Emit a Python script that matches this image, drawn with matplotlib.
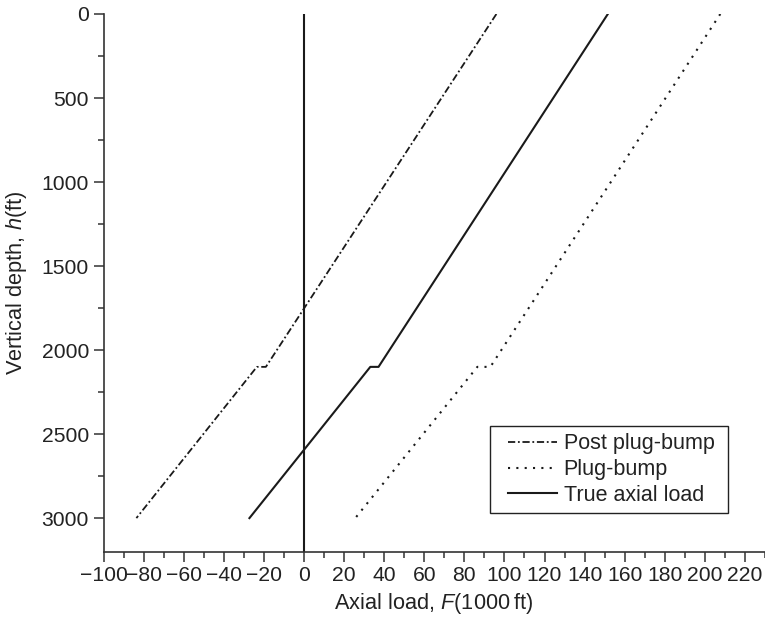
import matplotlib
matplotlib.use("Agg")
import matplotlib.pyplot as plt
from matplotlib.ticker import MultipleLocator
from matplotlib.legend_handler import HandlerLine2D

plt.rcParams['font.family'] = ['Liberation Sans', 'DejaVu Sans']
plt.rcParams['mathtext.fontset'] = 'custom'
plt.rcParams['mathtext.it'] = 'Liberation Sans:italic'
plt.rcParams['mathtext.rm'] = 'Liberation Sans'

# Data (depth in ft, axial load in 1000 lbf)
depth = [0, 2100, 2100, 3000]
post_plug_bump = [96, -19, -23.5, -83.6]
plug_bump = [207.7, 93, 86.5, 25.6]
true_axial_load = [151.6, 37.2, 33.1, -27.2]

xticks = list(range(-100, 221, 20))
yticks = [0, 500, 1000, 1500, 2000, 2500, 3000]

fs = 15.2
fig = plt.figure(figsize=(7.65, 6.22), dpi=100)
ax = fig.add_axes([0.1353, 0.113, 0.8647, 0.8645])

c = '#1a1a1a'
ax.plot(post_plug_bump, depth, color=c, lw=1.3, ls=(0, (4, 1.5, 1, 1.5)),
        label='Post plug-bump')
ax.plot(plug_bump, depth, color=c, lw=1.5, ls=(0, (1, 3)), label='Plug-bump')
ax.plot(true_axial_load, depth, color=c, lw=1.5, ls='-', label='True axial load')
ax.axvline(0, color=c, lw=1.5)

ax.set_xlim(-100, 230)
ax.set_ylim(3200, 0)
ax.set_xticks(xticks)
ax.set_xticklabels([f"{t}".replace('-', '\u2212') for t in xticks])
ax.set_yticks(yticks)
ax.xaxis.set_minor_locator(MultipleLocator(10))
ax.yaxis.set_minor_locator(MultipleLocator(250))

for s in ['top', 'right']:
    ax.spines[s].set_visible(False)
for s in ['left', 'bottom']:
    ax.spines[s].set_color('#333333')
    ax.spines[s].set_linewidth(1.2)

ax.tick_params(which='major', direction='out', length=7.5, width=1.1,
               colors='#333333', labelsize=fs, labelcolor='#222222', pad=3)
ax.tick_params(which='minor', direction='out', length=4, width=1.1, colors='#333333')

ax.set_xlabel('Axial load, $F$(1000\u2009ft)', fontsize=fs + 0.5, color='#222222', labelpad=4)
ax.set_ylabel('Vertical depth, $h$(ft)', fontsize=fs + 0.5, color='#222222', labelpad=9)

leg = ax.legend(loc='upper left', bbox_to_anchor=(0.585, 0.077, 0.3585, 0.157),
                mode='expand', fontsize=fs + 0.3,
                frameon=True, fancybox=False, edgecolor='#222222', framealpha=1,
                handlelength=2.75, handletextpad=0.3, labelspacing=0.22,
                borderpad=0.35, borderaxespad=0,
                handler_map={plt.Line2D: HandlerLine2D(xpad=0.47)})
leg.get_frame().set_linewidth(1.0)
for t in leg.get_texts():
    t.set_color('#222222')

fig.savefig('out.png', dpi=100)
